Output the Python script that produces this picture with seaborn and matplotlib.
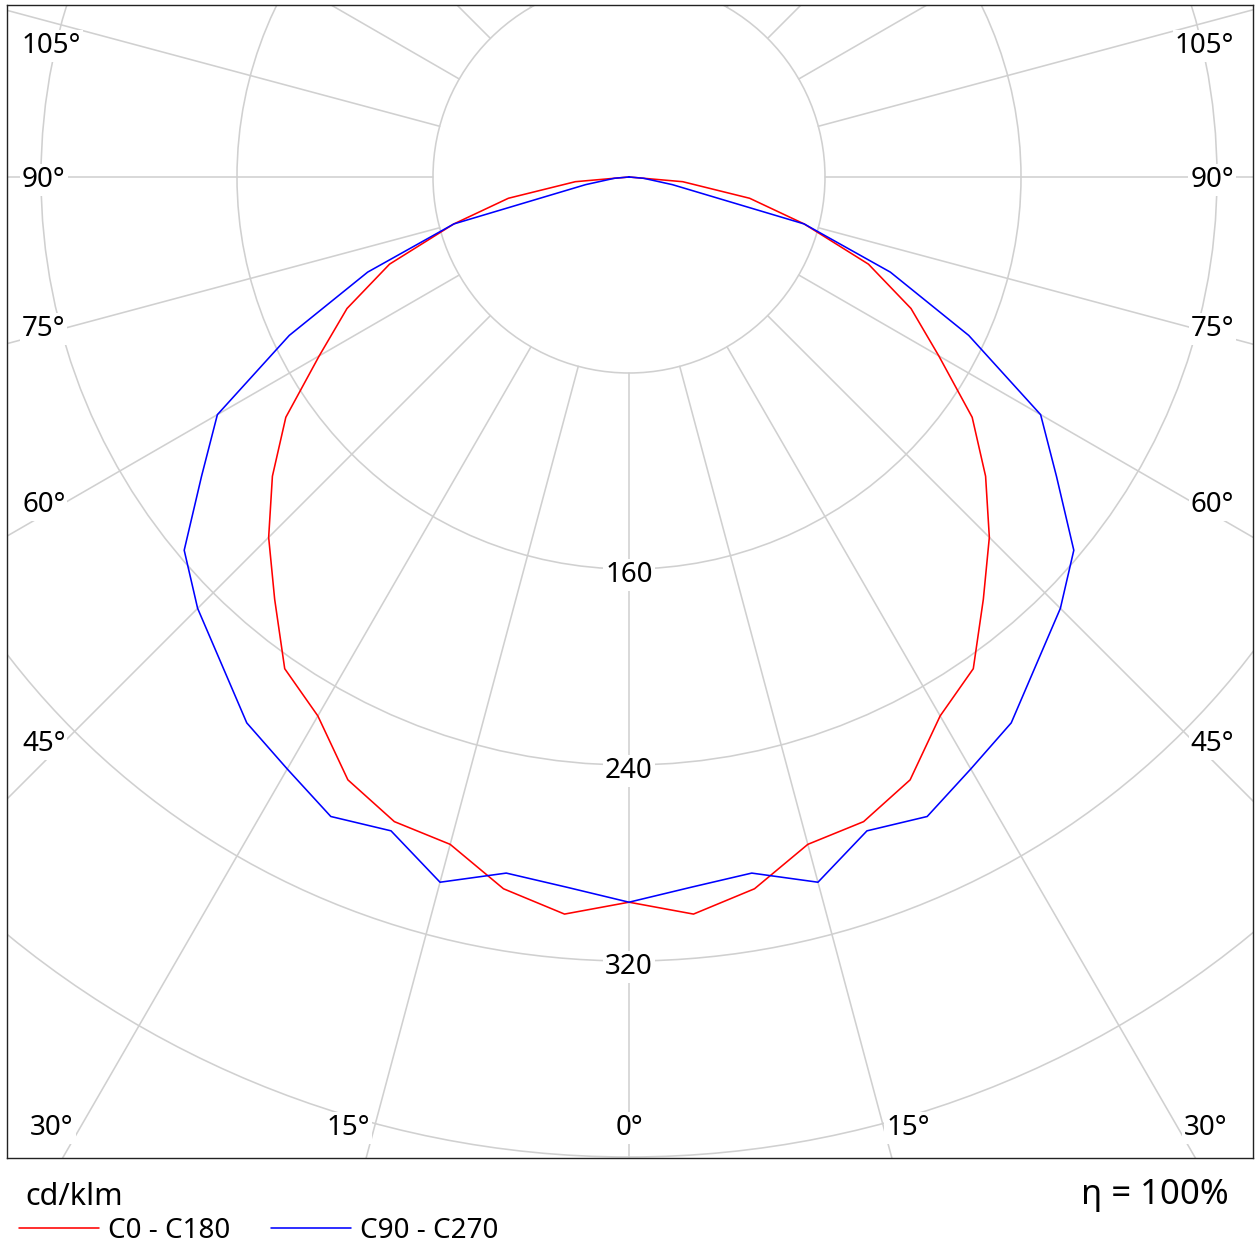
import numpy as np
import pandas as pd
import matplotlib
matplotlib.use("Agg")
import matplotlib.pyplot as plt
import seaborn as sns
from matplotlib.patches import Circle

# ---------------- data (cd/klm) ----------------
gamma_deg = [-90, -85, -80, -75, -70, -65, -60, -55, -50, -45, -40, -35, -30, -25, -20, -15, -10, -5,
             0, 5, 10, 15, 20, 25, 30, 35, 40, 45, 50, 55, 60, 65, 70, 75, 80, 85, 90]
c0_c180 = [0, 22, 50, 74, 104, 127, 146, 171, 190, 208, 225, 245, 254, 271.5, 280, 282, 295, 302,
           296, 302, 295, 282, 280, 271.5, 254, 245, 225, 208, 190, 171, 146, 127, 104, 74, 50, 22, 0]
c90_c270 = [0, 6, 18, 74, 113.5, 153, 194, 213, 237, 249, 259, 272, 279, 288, 284, 298, 288.5, 291,
            296, 291, 288.5, 298, 284, 288, 279, 272, 259, 249, 237, 213, 194, 153, 113.5, 74, 18, 6, 0]
series_names = ["C0 - C180", "C90 - C270"]
series_colors = ["#ff0000", "#0000ff"]
ring_values = [80, 160, 240, 320, 400]
ring_labels = ["160", "240", "320"]
spoke_angles = list(range(0, 360, 15))
side_angle_labels = ["105°", "90°", "75°", "60°", "45°"]
bottom_angle_labels = ["30°", "15°", "0°", "15°", "30°"]
unit_label = "cd/klm"
eff_label = "η = 100%"

# ---------------- geometry of the figure (pixels) ----------------
W, H = 1260, 1259
AX_L, AX_T, AX_R, AX_B = 7, 5, 1253, 1158
CX, CY = 629, 177          # pixel position of the polar centre
PX_PER_UNIT = 2.45

sns.set_theme(style="white")
plt.rcParams["font.family"] = ["Noto Sans", "DejaVu Sans"]

fig = plt.figure(figsize=(W / 100, H / 100), dpi=100)
ax = fig.add_axes([AX_L / W, 1 - AX_B / H, (AX_R - AX_L) / W, (AX_B - AX_T) / H])
ax.set_xlim((AX_L - CX) / PX_PER_UNIT, (AX_R - CX) / PX_PER_UNIT)
ax.set_ylim(-(AX_B - CY) / PX_PER_UNIT, (CY - AX_T) / PX_PER_UNIT)
ax.set_xticks([])
ax.set_yticks([])
for sp in ax.spines.values():
    sp.set_color("#222222")
    sp.set_linewidth(1.0)

grid_color = "#d0d0d0"
for r in ring_values:
    ax.add_patch(Circle((0, 0), r, fill=False, ec=grid_color, lw=1.15, zorder=1))
for a in spoke_angles:
    t = np.radians(a)
    ax.plot([80 * np.sin(t), 1000 * np.sin(t)], [-80 * np.cos(t), -1000 * np.cos(t)],
            color=grid_color, lw=1.15, zorder=1)

# ---------------- curves ----------------
frames = []
for name, vals in zip(series_names, [c0_c180, c90_c270]):
    g = np.radians(np.array(gamma_deg, dtype=float))
    v = np.array(vals, dtype=float)
    frames.append(pd.DataFrame({"x": v * np.sin(g), "y": -v * np.cos(g), "series": name}))
df = pd.concat(frames, ignore_index=True)
sns.lineplot(data=df, x="x", y="y", hue="series", palette=dict(zip(series_names, series_colors)),
             sort=False, estimator=None, lw=1.15, ax=ax, zorder=4)
handles, labels = ax.get_legend_handles_labels()
if ax.get_legend() is not None:
    ax.get_legend().remove()
ax.set_xlabel("")
ax.set_ylabel("")


# ---------------- labels ----------------
def ax_text(px, py, s, ha, size):
    # py is the vertical centre of the digits
    size_px = size * 100 / 72
    base = py + 0.357 * size_px
    ax.text((px - AX_L) / (AX_R - AX_L), (AX_B - base) / (AX_B - AX_T), s, transform=ax.transAxes,
            ha=ha, va="baseline", fontsize=size, color="#000000", zorder=5,
            bbox=dict(fc="white", ec="none", pad=1.5))


side_y = [43, 177, 326, 502, 741]
for lab, y in zip(side_angle_labels, side_y):
    ax_text(22, y, lab, "left", 20)
    ax_text(1234, y, lab, "right", 20)
for lab, x in zip(bottom_angle_labels, [52, 348, 629, 908, 1206]):
    ax_text(x, 1125, lab, "center", 20)
for lab, y in zip(ring_labels, [572, 768, 964]):
    ax_text(629, y, lab, "center", 20)

fig.text(25 / W, 1 - 1205 / H, unit_label, ha="left", va="baseline", fontsize=22, color="#000000")
fig.text(1229 / W, 1 - 1204 / H, eff_label, ha="right", va="baseline", fontsize=25, color="#000000")

fs = 20
fpx = fs * 100 / 72
fig.legend(handles, labels, loc="center left", bbox_to_anchor=(19 / W, 1 - 1231 / H), ncol=2,
           frameon=False, fontsize=fs, handlelength=80 / fpx, handletextpad=9 / fpx,
           columnspacing=41 / fpx, borderpad=0, borderaxespad=0, labelcolor="#000000")

fig.savefig("out.png", dpi=100, facecolor="white")
